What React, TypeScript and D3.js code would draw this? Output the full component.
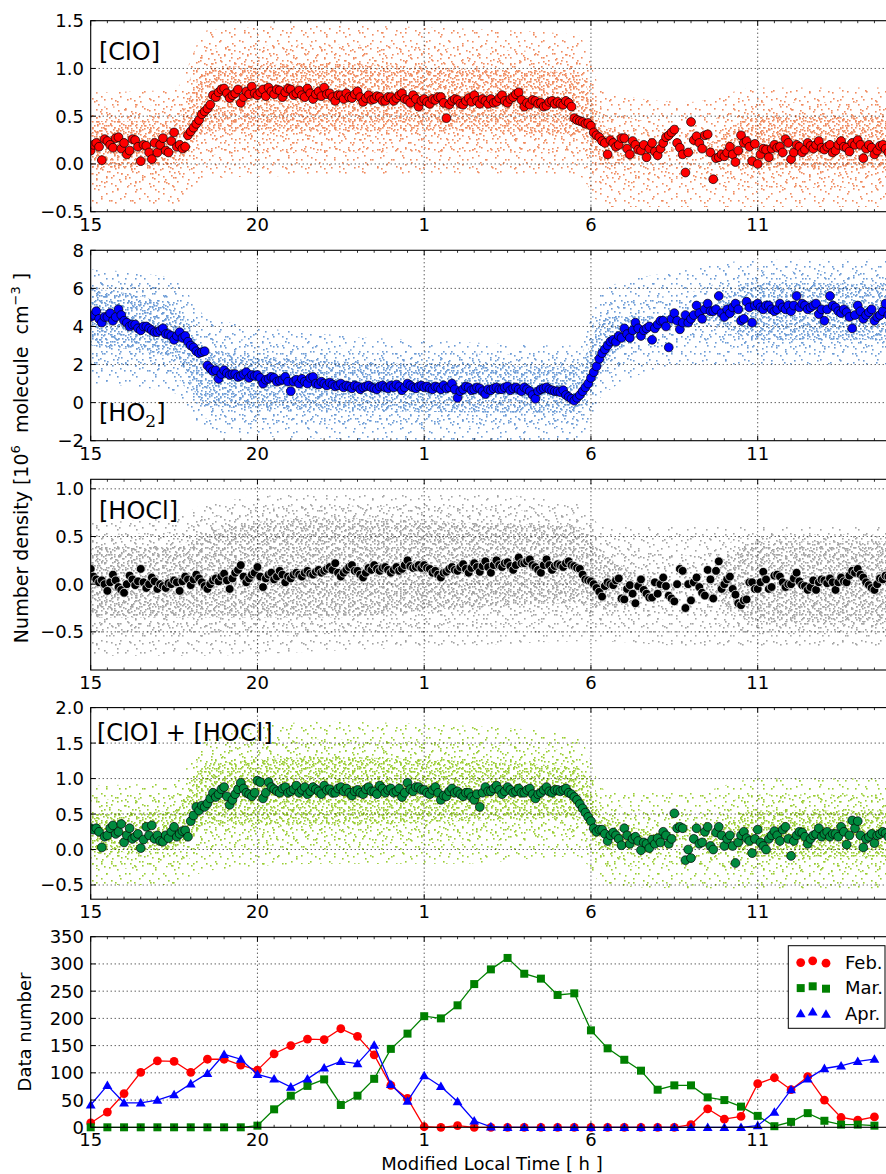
import React from "react";
import * as d3 from "d3";

// ---------------- data (5-min samples from 15 h to 38.92 h, 12 per hour) ----------------
const clo = [
  0.14, 0.2, 0.22, 0.18, 0.04, 0.26, 0.24, 0.2, 0.17, 0.27, 0.28, 0.16,
  0.22, 0.1, 0.14, 0.26, 0.25, 0.18, 0.03, 0.2, 0.19, 0.12, 0.05, 0.22,
  0.12, 0.2, 0.27, 0.14, 0.12, 0.24, 0.33, 0.18, 0.2, 0.16, 0.18, 0.3,
  0.34, 0.38, 0.42, 0.46, 0.52, 0.55, 0.58, 0.62, 0.72, 0.7, 0.75, 0.78,
  0.79, 0.74, 0.69, 0.72, 0.74, 0.78, 0.64, 0.7, 0.76, 0.73, 0.81, 0.74,
  0.72, 0.75, 0.78, 0.71, 0.8, 0.76, 0.73, 0.78, 0.77, 0.7, 0.75, 0.79,
  0.78, 0.72, 0.74, 0.77, 0.72, 0.7, 0.79, 0.74, 0.68, 0.73, 0.76, 0.71,
  0.8, 0.73, 0.74, 0.7, 0.66, 0.72, 0.72, 0.68, 0.74, 0.7, 0.69, 0.73,
  0.76, 0.7, 0.65, 0.69, 0.72, 0.67, 0.68, 0.71, 0.7, 0.66, 0.66, 0.7,
  0.7, 0.66, 0.69, 0.72, 0.74, 0.68, 0.67, 0.64, 0.72, 0.68, 0.6, 0.66,
  0.68, 0.65, 0.63, 0.68, 0.67, 0.7, 0.7, 0.64, 0.48, 0.62, 0.66, 0.68,
  0.67, 0.63, 0.62, 0.66, 0.69, 0.65, 0.72, 0.66, 0.63, 0.68, 0.66, 0.63,
  0.68, 0.64, 0.65, 0.69, 0.72, 0.66, 0.64, 0.68, 0.7, 0.73, 0.75, 0.67,
  0.6, 0.64, 0.62, 0.67, 0.66, 0.63, 0.64, 0.6, 0.61, 0.65, 0.66, 0.63,
  0.65, 0.63, 0.62, 0.66, 0.64, 0.6, 0.48, 0.46, 0.45, 0.44, 0.42, 0.43,
  0.4, 0.33, 0.3, 0.28, 0.24, 0.22, 0.1, 0.25, 0.22, 0.18, 0.2, 0.27,
  0.27, 0.16, 0.1, 0.24, 0.2, 0.15, 0.14, 0.2, 0.07, 0.16, 0.22, 0.13,
  0.09, 0.16, 0.22, 0.28, 0.3, 0.33, 0.36, 0.22, 0.17, 0.1, -0.09, 0.12,
  0.44, 0.25, 0.29, 0.22, 0.16, 0.3, 0.31, 0.12, -0.16, 0.06, 0.07, 0.1,
  0.08, 0.12, 0.18, 0.1, 0.02, 0.14, 0.3, 0.22, 0.24, 0.18, 0.03, 0.21,
  0.0, 0.1, 0.16, 0.15, 0.07, 0.16, 0.2, 0.17, 0.18, 0.12, 0.26, 0.22,
  0.05, 0.12, 0.2, 0.18, 0.12, 0.15, 0.22, 0.19, 0.16, 0.2, 0.24, 0.17,
  0.15, 0.18, 0.2, 0.12, 0.14, 0.2, 0.24, 0.18, 0.17, 0.13, 0.22, 0.2,
  0.25, 0.2, 0.06, 0.16, 0.2, 0.17, 0.1, 0.14, 0.19, 0.2, 0.16, 0.12,
];

const ho2 = [
  4.5, 4.6, 4.8, 4.4, 4.2, 4.5, 4.5, 4.7, 4.3, 4.5, 4.9, 4.6,
  4.3, 4.2, 4.0, 4.1, 4.1, 3.9, 3.8, 4.0, 4.0, 3.9, 3.8, 3.7,
  3.7, 3.8, 3.9, 3.6, 3.6, 3.5, 3.3, 3.5, 3.7, 3.4, 3.5, 3.2,
  3.0, 2.9, 2.7, 2.6, 2.65, 2.7, 1.95, 1.8, 1.65, 1.7, 1.25, 1.5,
  1.7, 1.55, 1.45, 1.5, 1.5, 1.35, 1.4, 1.5, 1.6, 1.3, 1.45, 1.4,
  1.45, 1.3, 1.0, 1.2, 1.25, 1.35, 1.3, 1.1, 1.15, 1.2, 1.35, 1.1,
  0.6, 1.1, 1.2, 1.0, 1.25, 1.1, 1.0, 1.3, 1.35, 1.0, 0.95, 1.1,
  1.0, 0.9, 1.05, 0.95, 0.85, 0.9, 1.0, 0.8, 0.9, 0.85, 0.75, 0.9,
  0.85, 0.7, 0.8, 0.85, 0.9, 0.8, 0.75, 0.7, 0.85, 0.9, 0.8, 0.75,
  0.9, 0.8, 0.95, 0.85, 0.65, 0.8, 1.0, 0.9, 0.8, 0.75, 0.85, 0.9,
  0.8, 0.85, 0.75, 0.7, 0.85, 0.8, 0.7, 0.9, 0.75, 0.8, 1.0, 0.7,
  0.25, 0.6, 0.7, 0.85, 0.8, 0.65, 0.7, 0.8, 0.75, 0.6, 0.45, 0.7,
  0.65, 0.75, 0.8, 0.7, 0.7, 0.8, 0.85, 0.65, 0.75, 0.8, 0.7, 0.6,
  0.8, 0.7, 0.6, 0.4, 0.2, 0.6, 0.7, 0.75, 0.8, 0.7, 0.65, 0.6,
  0.6, 0.55, 0.65, 0.4, 0.3, 0.2, 0.1, 0.25, 0.4, 0.6, 0.8, 1.0,
  1.3, 1.6, 1.9, 2.3, 2.6, 2.8, 3.0, 3.2, 3.3, 3.2, 3.5, 3.4,
  3.9, 3.6, 3.4, 3.8, 4.2, 3.9, 3.5, 3.8, 3.9, 4.0, 3.3, 3.9,
  4.1, 4.3, 4.3, 4.0, 2.9, 4.4, 4.7, 4.3, 3.85, 4.2, 4.6, 4.2,
  4.4, 4.6, 5.1, 4.7, 4.4, 4.9, 5.2, 4.8, 4.8, 4.9, 5.6, 4.7,
  4.5, 4.9, 4.7, 5.0, 5.2, 4.9, 4.3, 4.4, 5.3, 5.0, 4.2, 5.1,
  5.2, 5.0, 4.9, 5.1, 5.1, 4.9, 4.8, 4.9, 5.2, 5.0, 4.9, 5.1,
  4.8, 5.1, 5.6, 5.0, 5.2, 5.1, 4.9, 5.0, 5.1, 5.2, 4.65, 4.9,
  4.3, 4.9, 5.6, 5.1, 5.0, 4.8, 4.7, 4.9, 4.75, 4.5, 3.9, 4.6,
  5.1, 4.8, 4.4, 4.6, 4.75, 4.9, 4.3, 4.5, 4.6, 4.8, 5.2, 4.6,
];

const hocl = [
  0.16, 0.08, 0.05, 0.02, 0.04, 0.0, -0.07, 0.02, 0.1, 0.04, -0.03, -0.06,
  -0.09, 0.0, 0.09, 0.05, -0.01, 0.03, 0.16, 0.02, -0.04, 0.0, 0.07, 0.03,
  -0.05, 0.0, -0.02, -0.04, 0.01, 0.0, 0.04, 0.02, -0.07, 0.03, 0.08, 0.05,
  -0.01, 0.05, 0.1, 0.06, 0.02, -0.02, -0.05, 0.0, 0.04, 0.06, 0.03, 0.08,
  0.11, 0.04, -0.05, 0.06, 0.12, 0.15, 0.2, 0.08, 0.02, 0.06, 0.1, 0.12,
  0.18, 0.08, -0.03, 0.06, 0.1, 0.12, 0.05, 0.08, 0.14, 0.1, 0.02, 0.08,
  0.06, 0.1, 0.12, 0.1, 0.08, 0.12, 0.14, 0.11, 0.1, 0.13, 0.15, 0.12,
  0.14, 0.16, 0.18, 0.15, 0.22, 0.12, 0.08, 0.12, 0.15, 0.18, 0.2, 0.14,
  0.14, 0.1, 0.07, 0.12, 0.17, 0.15, 0.2, 0.16, 0.14, 0.17, 0.18, 0.15,
  0.12, 0.15, 0.18, 0.14, 0.16, 0.2, 0.25, 0.19, 0.17, 0.18, 0.2, 0.17,
  0.2, 0.17, 0.16, 0.12, 0.14, 0.1, 0.07, 0.12, 0.13, 0.16, 0.18, 0.15,
  0.14, 0.18, 0.21, 0.16, 0.12, 0.17, 0.22, 0.18, 0.13, 0.19, 0.24, 0.18,
  0.12, 0.2, 0.25, 0.2, 0.18, 0.22, 0.23, 0.19, 0.15, 0.2, 0.28, 0.22,
  0.22, 0.24, 0.26, 0.2, 0.18, 0.15, 0.12, 0.2, 0.26, 0.2, 0.15, 0.19,
  0.21, 0.2, 0.18, 0.22, 0.24, 0.2, 0.19, 0.17, 0.16, 0.1, 0.05, 0.04,
  0.03, 0.0, -0.04, -0.08, -0.13, -0.02, 0.02, 0.0, -0.01, 0.04, 0.06, -0.15,
  -0.16, -0.05, -0.01, -0.1, -0.2, -0.02, 0.05, -0.06, -0.1, -0.14, -0.14, 0.02,
  -0.1, 0.0, 0.07, -0.02, -0.12, -0.15, -0.18, 0.0, 0.16, 0.14, -0.25, 0.0,
  -0.17, 0.02, 0.07, -0.03, -0.09, -0.12, 0.15, 0.05, -0.15, 0.14, 0.24, -0.05,
  0.0, 0.05, 0.08, -0.05, -0.11, -0.2, -0.22, -0.17, -0.16, 0.02, 0.02, -0.05,
  -0.05, 0.02, 0.13, 0.05, -0.05, -0.03, 0.09, 0.1, 0.08, 0.02, -0.03, 0.0,
  0.0, 0.06, 0.12, 0.03, -0.01, -0.02, -0.06, -0.03, 0.04, -0.06, 0.02, 0.05,
  0.04, 0.01, 0.06, 0.02, -0.06, 0.02, 0.07, 0.03, 0.02, 0.09, 0.14, 0.12,
  0.16, 0.1, 0.07, 0.02, -0.01, -0.04, -0.06, 0.0, 0.06, 0.05, 0.09, 0.08,
];

const cloPlusHocl = [
  0.3, 0.28, 0.3, 0.25, 0.03, 0.18, 0.2, 0.3, 0.34, 0.22, 0.25, 0.36,
  0.1, 0.2, 0.3, 0.15, 0.18, 0.22, 0.02, 0.14, 0.32, 0.2, 0.34, 0.15,
  0.2, 0.12, 0.11, 0.2, 0.16, 0.25, 0.32, 0.18, 0.22, 0.26, 0.27, 0.18,
  0.4, 0.48, 0.6, 0.55, 0.62, 0.6, 0.65, 0.72, 0.8, 0.74, 0.78, 0.85,
  0.88, 0.75, 0.63, 0.7, 0.78, 0.85, 0.94, 0.86, 0.8, 0.78, 0.75, 0.8,
  0.97, 0.95, 0.72, 0.8, 0.95, 0.88, 0.85, 0.82, 0.8, 0.86, 0.88, 0.8,
  0.82, 0.85, 0.9, 0.8, 0.84, 0.88, 0.78, 0.82, 0.88, 0.85, 0.82, 0.78,
  0.9, 0.84, 0.85, 0.8, 0.8, 0.86, 0.88, 0.82, 0.86, 0.8, 0.76, 0.82,
  0.84, 0.8, 0.78, 0.85, 0.88, 0.82, 0.82, 0.78, 0.9, 0.86, 0.8, 0.84,
  0.86, 0.8, 0.82, 0.86, 0.74, 0.8, 0.94, 0.85, 0.82, 0.88, 0.88, 0.84,
  0.84, 0.8, 0.78, 0.84, 0.88, 0.8, 0.7, 0.76, 0.75, 0.82, 0.86, 0.8,
  0.82, 0.78, 0.75, 0.8, 0.8, 0.74, 0.7, 0.78, 0.6, 0.8, 0.88, 0.82,
  0.82, 0.86, 0.9, 0.84, 0.78, 0.82, 0.88, 0.84, 0.8, 0.82, 0.86, 0.8,
  0.8, 0.84, 0.86, 0.78, 0.72, 0.78, 0.8, 0.84, 0.88, 0.82, 0.8, 0.84,
  0.84, 0.82, 0.84, 0.86, 0.8, 0.78, 0.74, 0.7, 0.64, 0.58, 0.52, 0.46,
  0.4, 0.3, 0.25, 0.28, 0.28, 0.22, 0.12, 0.2, 0.24, 0.2, 0.15, 0.06,
  0.3, 0.2, 0.08, 0.15, 0.18, 0.12, -0.01, 0.1, 0.08, 0.02, 0.14, 0.08,
  0.16, 0.1, 0.25, 0.2, 0.08, 0.15, 0.51, 0.3, 0.32, 0.3, -0.15, 0.0,
  -0.12, 0.15, 0.3, 0.08, 0.1, 0.25, 0.32, 0.05, 0.0, 0.24, 0.32, 0.2,
  0.05, 0.15, 0.2, 0.05, -0.19, 0.1, 0.2, 0.25, 0.16, 0.12, -0.05, 0.15,
  0.28, 0.1, 0.05, 0.0, 0.15, 0.2, 0.26, 0.2, 0.12, 0.28, 0.32, 0.15,
  -0.09, 0.12, 0.2, 0.25, 0.24, 0.18, 0.08, 0.15, 0.2, 0.22, 0.3, 0.18,
  0.22, 0.25, 0.18, 0.22, 0.22, 0.18, 0.32, 0.25, 0.07, 0.2, 0.41, 0.3,
  0.4, 0.2, 0.03, 0.15, 0.18, 0.22, 0.09, 0.2, 0.22, 0.25, 0.23, 0.18,
];

// Individual-measurement cloud envelopes (outer extent and dense core), at knot times
const cloudT = [15, 17.5, 18.5, 22, 26, 29.6, 30.4, 33, 35, 39];
const cloOutLo = [-0.42, -0.42, -0.15, -0.12, -0.1, -0.12, -0.45, -0.45, -0.45, -0.45];
const cloOutHi = [0.75, 0.78, 1.4, 1.45, 1.42, 1.35, 0.75, 0.65, 0.8, 0.8];
const cloCoreLo = [-0.05, 0.0, 0.35, 0.35, 0.35, 0.3, 0.0, 0.15, -0.05, -0.05];
const cloCoreHi = [0.45, 0.45, 1.0, 1.05, 1.0, 0.95, 0.4, 0.15, 0.5, 0.5];

const ho2OutLo = [1.0, 0.5, -1.5, -1.9, -2.0, -2.0, 0.5, 2.0, 2.0, 2.0];
const ho2OutHi = [7.0, 6.5, 4.5, 3.6, 3.2, 3.0, 6.0, 7.0, 7.5, 7.5];
const ho2CoreLo = [3.0, 2.3, -0.2, -0.4, -0.5, -0.6, 2.0, 4.5, 3.3, 3.3];
const ho2CoreHi = [6.0, 5.0, 2.8, 2.2, 2.0, 1.9, 4.5, 4.6, 6.3, 6.2];

const hoclOutLo = [-0.75, -0.75, -0.75, -0.7, -0.65, -0.6, -0.6, -0.65, -0.65, -0.65];
const hoclOutHi = [0.65, 0.7, 0.85, 0.95, 0.95, 0.85, 0.6, 0.6, 0.6, 0.6];
const hoclCoreLo = [-0.35, -0.35, -0.35, -0.35, -0.25, -0.2, -0.25, -0.05, -0.4, -0.4];
const hoclCoreHi = [0.4, 0.4, 0.55, 0.7, 0.65, 0.6, 0.3, 0.0, 0.45, 0.45];

const sumOutLo = [-0.5, -0.5, -0.3, -0.2, -0.2, -0.1, -0.5, -0.55, -0.55, -0.55];
const sumOutHi = [0.9, 0.95, 1.6, 1.8, 1.75, 1.6, 0.85, 0.8, 1.0, 1.0];
const sumCoreLo = [-0.05, 0.0, 0.35, 0.35, 0.4, 0.45, 0.0, 0.15, -0.1, -0.1];
const sumCoreHi = [0.5, 0.55, 1.2, 1.3, 1.25, 1.15, 0.45, 0.2, 0.55, 0.55];

// Data number per half hour (15.0 ... 38.5)
const feb = [8, 28, 62, 101, 122, 121, 101, 125, 125, 114, 105, 135, 150, 162, 161, 181, 167, 133, 77, 53,
  1, 0, 3, 0, 0, 0, 0, 0, 0, 0, 0, 0, 0, 0, 0, 0, 5, 34, 15, 20, 80, 91, 69, 93, 50, 18, 13, 19];
const mar = [0, 0, 0, 0, 0, 0, 0, 0, 0, 0, 3, 33, 58, 76, 88, 41, 58, 89, 144, 172,
  204, 200, 224, 263, 290, 311, 282, 273, 243, 246, 178, 145, 124, 104, 69, 77, 77, 55, 50, 38, 21, 2, 10, 26, 12, 5, 5, 3];
const apr = [41, 77, 45, 45, 50, 60, 80, 99, 134, 125, 97, 89, 74, 89, 109, 121, 117, 151, 79, 48,
  95, 75, 47, 12, 1, 0, 0, 0, 0, 0, 0, 0, 0, 0, 0, 0, 0, 0, 0, 0, 3, 28, 69, 89, 108, 113, 121, 125];

const xTickValues = [15, 20, 25, 30, 35];
const xTickLabels = ["15", "20", "1", "6", "11"];
const months = ["Feb.", "Mar.", "Apr."];

// ---------------- styles ----------------
const FONT = "DejaVu Sans, Verdana, sans-serif";
const X0 = 90.7;
const X1 = 891.1;
type Tile = { w: number; h: number; p: number[][] };
const TILES_OUTER: Tile[] = [
  { w: 19, h: 17, p: [[3, 2], [11, 6], [16, 13], [6, 11], [1, 15]] },
  { w: 23, h: 29, p: [[4, 5], [14, 3], [20, 17], [9, 22], [2, 14], [17, 26], [12, 12]] },
];
const TILES_MID: Tile[] = [
  { w: 29, h: 23, p: [[2, 4], [9, 17], [15, 8], [22, 2], [26, 14], [5, 12], [19, 20], [12, 1]] },
  { w: 31, h: 19, p: [[3, 3], [11, 11], [18, 6], [25, 15], [7, 16], [28, 2], [14, 0]] },
];
const TILES_CORE: Tile[] = [
  { w: 11, h: 13, p: [[2, 3], [7, 1], [9, 8], [4, 10], [0, 6]] },
  { w: 13, h: 7, p: [[1, 2], [6, 5], [10, 1]] },
  { w: 17, h: 11, p: [[3, 8], [9, 4], [14, 9], [12, 0]] },
];
const LAYERS: [string, Tile[]][] = [["o", TILES_OUTER], ["m", TILES_MID], ["c", TILES_CORE]];

type PanelCfg = {
  id: string;
  top: number;
  bottom: number;
  domain: [number, number];
  ticks: number[];
  fmt: (v: number) => string;
  values: number[];
  env: number[][];
  dot: string;
  fill: string;
  edge: string;
};

const fmt1 = d3.format(".1f");
const fmt0 = d3.format("d");

const panels: PanelCfg[] = [
  { id: "clo", top: 20.7, bottom: 211.7, domain: [-0.5, 1.5], ticks: [-0.5, 0, 0.5, 1, 1.5], fmt: fmt1,
    values: clo, env: [cloOutLo, cloOutHi, cloCoreLo, cloCoreHi], dot: "#f08a5e", fill: "#ff0000", edge: "#000000" },
  { id: "ho2", top: 250.3, bottom: 440.7, domain: [-2, 8], ticks: [-2, 0, 2, 4, 6, 8], fmt: fmt0,
    values: ho2, env: [ho2OutLo, ho2OutHi, ho2CoreLo, ho2CoreHi], dot: "#6b9bd6", fill: "#0000ff", edge: "#000000" },
  { id: "hocl", top: 479.3, bottom: 670, domain: [-0.9, 1.1], ticks: [-0.5, 0, 0.5, 1], fmt: fmt1,
    values: hocl, env: [hoclOutLo, hoclOutHi, hoclCoreLo, hoclCoreHi], dot: "#a3a3a3", fill: "#000000", edge: "#ffffff" },
  { id: "sum", top: 707.6, bottom: 899.2, domain: [-0.7, 2.0], ticks: [-0.5, 0, 0.5, 1, 1.5, 2], fmt: fmt1,
    values: cloPlusHocl, env: [sumOutLo, sumOutHi, sumCoreLo, sumCoreHi], dot: "#9acd32", fill: "#008a3e", edge: "#000000" },
];

export default function App() {
  const x = d3.scaleLinear().domain([15, 39]).range([X0, X1]);
  const sampleT = clo.map((_, i) => 15 + i / 12);
  const halfT = feb.map((_, i) => 15 + i * 0.5);
  const minorX = d3.range(15, 39.01, 0.5).filter((t) => !xTickValues.includes(t));

  const gridStyle = { stroke: "#000", strokeWidth: 0.9, strokeDasharray: "1,3" };

  const axesFrame = (top: number, bottom: number, y: d3.ScaleLinear<number, number>, ticks: number[], fmt: (v: number) => string, key: string) => (
    <g key={key + "-axes"}>
      {xTickValues.map((t) => (
        <g key={"mx" + t}>
          <line x1={x(t)} x2={x(t)} y1={bottom} y2={bottom - 5} stroke="#000" strokeWidth={1} />
          <line x1={x(t)} x2={x(t)} y1={top} y2={top + 5} stroke="#000" strokeWidth={1} />
        </g>
      ))}
      {minorX.map((t) => (
        <g key={"mn" + t}>
          <line x1={x(t)} x2={x(t)} y1={bottom} y2={bottom - 2.5} stroke="#000" strokeWidth={0.8} />
          <line x1={x(t)} x2={x(t)} y1={top} y2={top + 2.5} stroke="#000" strokeWidth={0.8} />
        </g>
      ))}
      {ticks.map((v) => (
        <g key={"yt" + v}>
          <line x1={X0} x2={X0 + 5} y1={y(v)} y2={y(v)} stroke="#000" strokeWidth={1} />
          <text x={84} y={y(v)} dy="0.36em" textAnchor="end" fontSize={18} fontFamily={FONT} fill="#000">
            {fmt(v)}
          </text>
        </g>
      ))}
      <rect x={X0} y={top} width={X1 - X0} height={bottom - top} fill="none" stroke="#000" strokeWidth={1.1} />
      {xTickValues.map((t, i) => (
        <text key={"xl" + t} x={x(t)} y={bottom + 19} textAnchor="middle" fontSize={18} fontFamily={FONT} fill="#000">
          {xTickLabels[i]}
        </text>
      ))}
    </g>
  );

  const grid = (top: number, bottom: number, y: d3.ScaleLinear<number, number>, ticks: number[], key: string) => (
    <g key={key + "-grid"}>
      {xTickValues.filter((t) => t > 15).map((t) => (
        <line key={"gx" + t} x1={x(t)} x2={x(t)} y1={top} y2={bottom} {...gridStyle} />
      ))}
      {ticks.filter((v) => y(v) > top + 0.5 && y(v) < bottom - 0.5).map((v) => (
        <line key={"gy" + v} x1={X0} x2={X1} y1={y(v)} y2={y(v)} {...gridStyle} />
      ))}
    </g>
  );

  const patternDefs = panels.flatMap((p) =>
    LAYERS.flatMap(([lk, tiles]) =>
      tiles.map((tile, k) => (
        <pattern key={`${p.id}-${lk}${k}`} id={`${p.id}-${lk}${k}`} width={tile.w} height={tile.h} patternUnits="userSpaceOnUse">
          {tile.p.map(([px, py], j) => <rect key={j} x={px} y={py} width={1.6} height={1.6} fill={p.dot} />)}
        </pattern>
      ))
    )
  );

  // bottom panel
  const bTop = 936.7;
  const bBottom = 1127.3;
  const yb = d3.scaleLinear().domain([0, 350]).range([bBottom, bTop]);
  const bTicks = d3.range(0, 351, 50);
  const lineGen = d3.line<number>().x((_, i) => x(halfT[i])).y((d) => yb(d));
  const sq = d3.symbol(d3.symbolSquare, 64)();
  const tri = d3.symbol(d3.symbolTriangle, 42)();
  const series = [
    { name: months[0], data: feb, color: "#ff0000", shape: "circle" },
    { name: months[1], data: mar, color: "#008000", shape: "square" },
    { name: months[2], data: apr, color: "#0000ff", shape: "triangle" },
  ];
  const marker = (shape: string, cx: number, cy: number, color: string, key: string) => {
    if (shape === "circle") return <circle key={key} cx={cx} cy={cy} r={4.4} fill={color} />;
    if (shape === "square") return <path key={key} d={sq || ""} transform={`translate(${cx},${cy})`} fill={color} />;
    return <path key={key} d={tri || ""} transform={`translate(${cx},${cy + 0.8})`} fill={color} />;
  };

  return (
    <svg width={886} height={1174} style={{ position: "absolute", left: 0, top: 0, background: "#fff" }} fontFamily={FONT}>
      <defs>
        {patternDefs}
        {panels.map((p) => (
          <clipPath key={"clip" + p.id} id={"clip-" + p.id}>
            <rect x={X0} y={p.top} width={X1 - X0} height={p.bottom - p.top} />
          </clipPath>
        ))}
      </defs>
      <rect x={0} y={0} width={886} height={1174} fill="#fff" />

      {panels.map((p) => {
        const y = d3.scaleLinear().domain(p.domain).range([p.bottom, p.top]);
        const [oLo, oHi, cLo, cHi] = p.env;
        const band = (lo: (i: number) => number, hi: (i: number) => number) =>
          d3.area<number>().x((t) => x(t)).y0((_, i) => y(lo(i))).y1((_, i) => y(hi(i))).curve(d3.curveMonotoneX)(cloudT) || "";
        const areas: Record<string, string> = {
          o: band((i) => oLo[i], (i) => oHi[i]),
          m: band((i) => (oLo[i] + cLo[i]) / 2, (i) => (oHi[i] + cHi[i]) / 2),
          c: band((i) => cLo[i], (i) => cHi[i]),
        };
        return (
          <g key={p.id}>
            <g clipPath={`url(#clip-${p.id})`}>
              {LAYERS.flatMap(([lk, tiles]) =>
                tiles.map((_, k) => <path key={lk + k} d={areas[lk]} fill={`url(#${p.id}-${lk}${k})`} />)
              )}
            </g>
            {grid(p.top, p.bottom, y, p.ticks, p.id)}
            <g clipPath={`url(#clip-${p.id})`}>
              {p.values.map((v, i) => (
                <circle key={i} cx={x(sampleT[i])} cy={y(v)} r={4.4} fill={p.fill} stroke={p.edge} strokeWidth={0.7} />
              ))}
            </g>
            {axesFrame(p.top, p.bottom, y, p.ticks, p.fmt, p.id)}
          </g>
        );
      })}

      {/* panel labels */}
      <text x={99} y={60} fontSize={24} fill="#000">[ClO]</text>
      <text x={99} y={421} fontSize={24} fill="#000">
        [HO<tspan fontFamily="DejaVu Serif, serif" fontSize={17} dy={6}>2</tspan><tspan dy={-6}>]</tspan>
      </text>
      <text x={99} y={519} fontSize={24} fill="#000">[HOCl]</text>
      <text x={97} y={741} fontSize={24} fill="#000">[ClO] + [HOCl]</text>

      {/* bottom panel */}
      {grid(bTop, bBottom, yb, bTicks, "b")}
      {series.map((s) => (
        <g key={s.name}>
          <path d={lineGen(s.data) || ""} fill="none" stroke={s.color} strokeWidth={1.3} />
          {s.data.map((v, i) => marker(s.shape, x(halfT[i]), yb(v), s.color, s.name + i))}
        </g>
      ))}
      {axesFrame(bTop, bBottom, yb, bTicks, fmt0, "b")}

      {/* legend */}
      <g>
        <rect x={788.3} y={945.7} width={96.7} height={82.6} fill="#fff" stroke="#000" strokeWidth={1} />
        {series.map((s, k) => {
          const cy = 962 + k * 25.5;
          const offs = [0.6, -1.2, 1.2];
          return (
            <g key={"lg" + s.name}>
              {[800.7, 812.7, 826].map((cx, j) => marker(s.shape, cx, cy + offs[j], s.color, "lgm" + k + j))}
              <text x={845} y={cy + 6.5} fontSize={18} fill="#000">{s.name}</text>
            </g>
          );
        })}
      </g>

      {/* axis titles */}
      <text transform="translate(28,458) rotate(-90)" textAnchor="middle" fontSize={19} fill="#000">
        Number density  [10<tspan fontSize={13} dy={-8}>6</tspan>
        <tspan dy={8} xmlSpace="preserve">  molecule  cm</tspan><tspan fontSize={13} dy={-8}>−3</tspan><tspan dy={8}> ]</tspan>
      </text>
      <text transform="translate(31,1032) rotate(-90)" textAnchor="middle" fontSize={18} fill="#000">Data number</text>
      <text x={492} y={1170} textAnchor="middle" fontSize={18} fill="#000">Modified Local Time [ h ]</text>
    </svg>
  );
}
